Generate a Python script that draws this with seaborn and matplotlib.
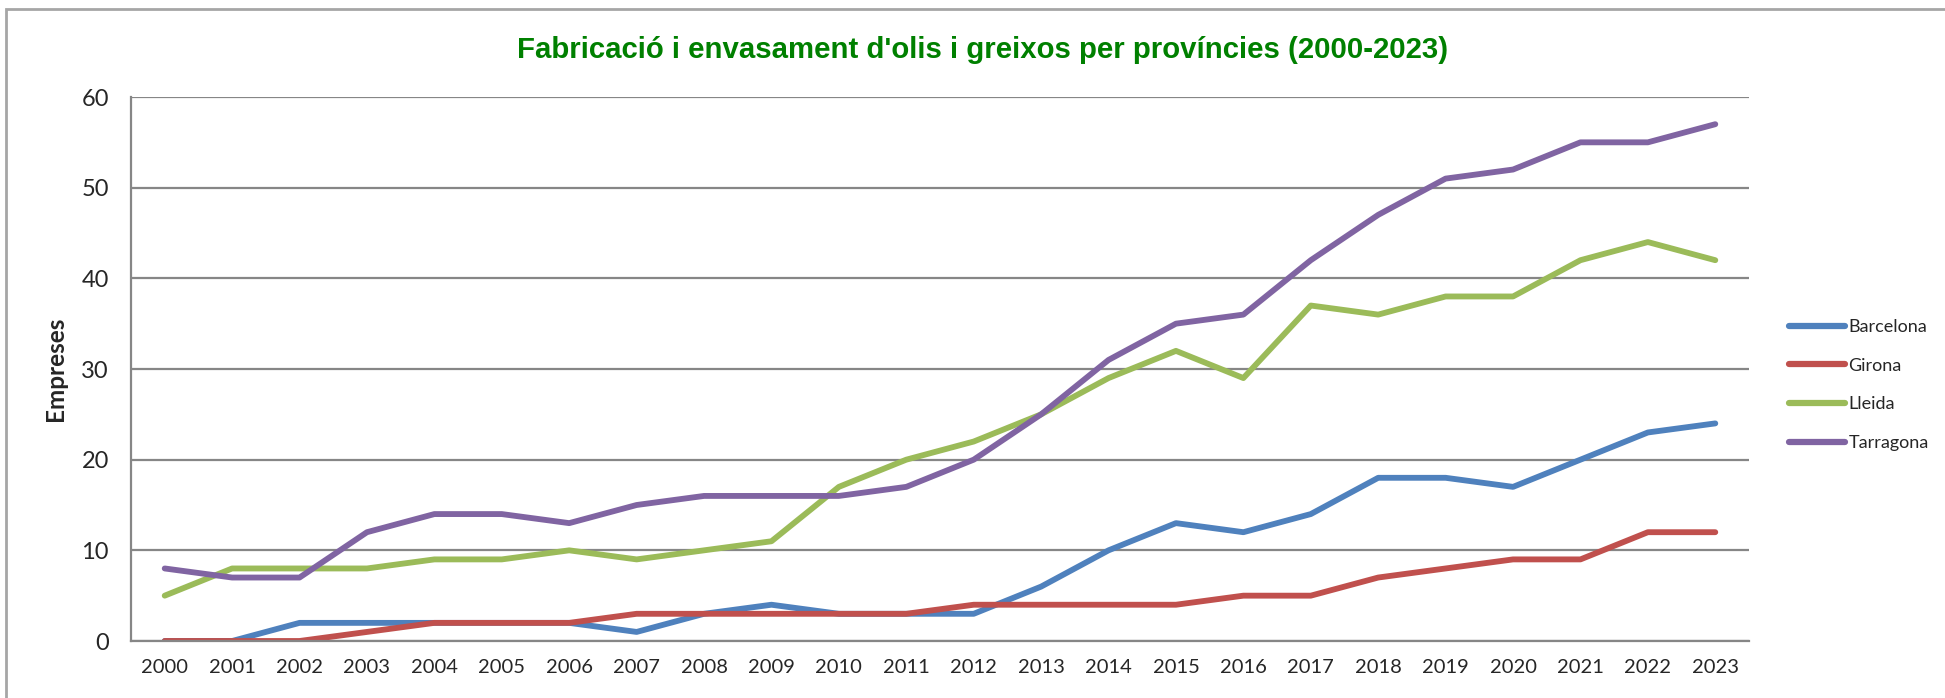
import seaborn as sns
import matplotlib.pyplot as plt
import pandas as pd
from matplotlib.patches import Rectangle

years = list(range(2000, 2024))
barcelona = [0, 0, 2, 2, 2, 2, 2, 1, 3, 4, 3, 3, 3, 6, 10, 13, 12, 14, 18, 18, 17, 20, 23, 24]
girona = [0, 0, 0, 1, 2, 2, 2, 3, 3, 3, 3, 3, 4, 4, 4, 4, 5, 5, 7, 8, 9, 9, 12, 12]
lleida = [5, 8, 8, 8, 9, 9, 10, 9, 10, 11, 17, 20, 22, 25, 29, 32, 29, 37, 36, 38, 38, 42, 44, 42]
tarragona = [8, 7, 7, 12, 14, 14, 13, 15, 16, 16, 16, 17, 20, 25, 31, 35, 36, 42, 47, 51, 52, 55, 55, 57]
provinces = ["Barcelona", "Girona", "Lleida", "Tarragona"]
colors = ["#4F81BD", "#C0504D", "#9BBB59", "#8064A2"]

# long format for seaborn
rows = []
for name, vals in zip(provinces, [barcelona, girona, lleida, tarragona]):
    for i, (yr, v) in enumerate(zip(years, vals)):
        rows.append({"idx": i, "Any": yr, "Empreses": v, "Provincia": name})
df = pd.DataFrame(rows)

sns.set_style("white")
plt.rcParams['font.family'] = ['Lato', 'DejaVu Sans']

fig = plt.figure(figsize=(19.45, 6.98), dpi=100)
ax = fig.add_axes([131 / 1945, 1 - 641 / 698, 1618 / 1945, 544 / 698])

sns.lineplot(data=df, x="idx", y="Empreses", hue="Provincia", palette=colors,
             linewidth=4.2, ax=ax, legend=False, solid_capstyle="round")

ax.set_xlim(-0.5, 23.5)
ax.set_ylim(0, 60)
ax.set_yticks(range(0, 61, 10))
ax.set_xticks(range(len(years)))
ax.set_xticklabels([str(y) for y in years])
ax.tick_params(axis="x", labelsize=14.5, pad=13, length=0)
ax.tick_params(axis="y", labelsize=17, pad=16, length=0)
ax.yaxis.grid(True, color="#868686", linewidth=1.6)
ax.set_axisbelow(True)
for s in ["top", "right"]:
    ax.spines[s].set_visible(False)
for s in ["left", "bottom"]:
    ax.spines[s].set_color("#868686")
    ax.spines[s].set_linewidth(1.6)
ax.set_xlabel("")
ax.set_ylabel("Empreses", fontsize=17.5, fontweight="bold", labelpad=10)

handles = [plt.Line2D([0], [0], color=c, linewidth=4.5, solid_capstyle="round") for c in colors]
fig.legend(handles, provinces, loc="center left", bbox_to_anchor=(1789 / 1945, 1 - 385 / 698),
           frameon=False, fontsize=13, handlelength=3.1, handletextpad=0.2, labelspacing=1.25,
           borderpad=0, borderaxespad=0)

fig.text(983 / 1945, 1 - 50 / 698, "Fabricació i envasament d'olis i greixos per províncies (2000-2023)",
         ha="center", va="center", fontsize=21.2, fontweight="bold", color="#008000",
         family=["Liberation Sans", "DejaVu Sans"])

# outer chart frame (cropped on right and bottom)
fig.patches.append(Rectangle((6 / 1945, -0.1), 1.2, 1 - 9 / 698 + 0.1, transform=fig.transFigure,
                             fill=False, edgecolor="#a6a6a6", linewidth=2))

fig.savefig("out.png", dpi=100)
